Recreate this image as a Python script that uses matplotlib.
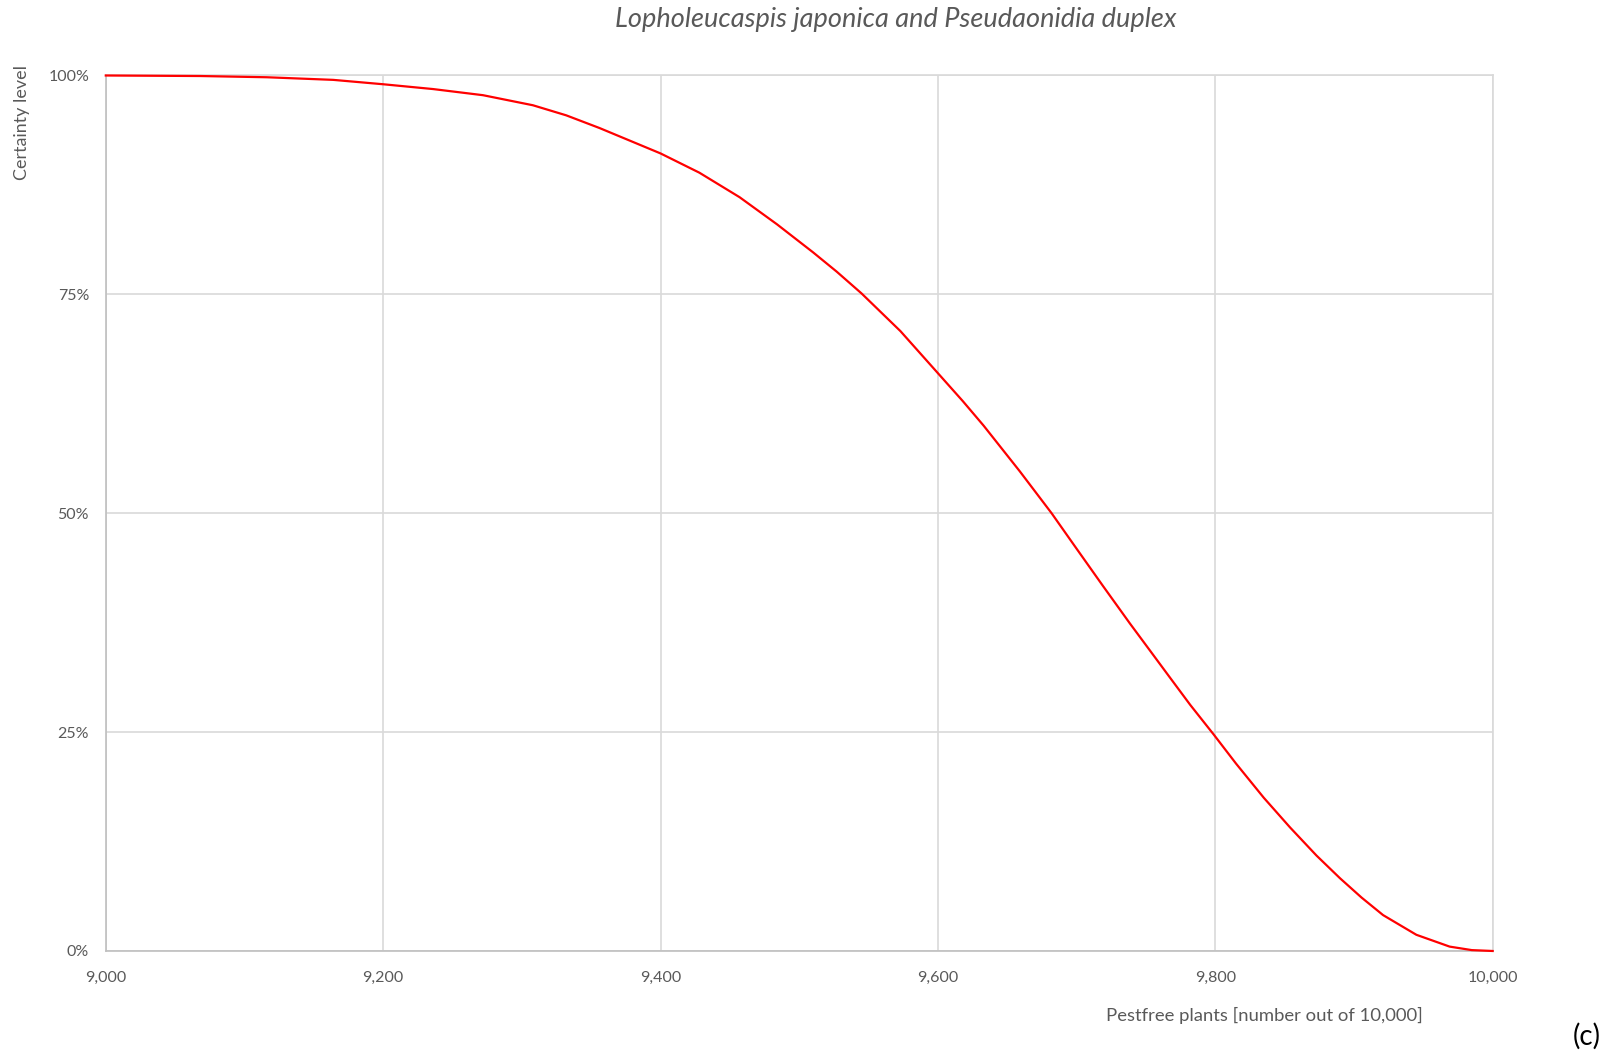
import numpy as np
import matplotlib
matplotlib.use('Agg')
import matplotlib.pyplot as plt
from matplotlib.ticker import FuncFormatter

# values
pestfree_plants = [9000, 9068, 9116, 9164, 9200, 9236, 9272, 9308, 9332, 9356,
                   9400, 9428, 9457, 9484, 9510, 9527, 9545, 9573, 9600, 9618,
                   9633, 9659, 9682, 9698, 9719, 9738.5, 9753, 9767, 9782, 9799,
                   9815, 9835, 9854, 9873, 9890, 9905.5, 9921, 9945, 9969, 9985, 10000]
certainty = [100.0, 99.94, 99.8, 99.5, 99.0, 98.45, 97.75, 96.6, 95.45, 94.0,
             91.1, 88.9, 86.1, 83.0, 79.8, 77.6, 75.1, 70.8, 66.0, 62.8,
             60.0, 54.8, 50.0, 46.4, 41.7, 37.4, 34.3, 31.3, 28.1, 24.7,
             21.4, 17.5, 14.1, 10.9, 8.3, 6.1, 4.1, 1.85, 0.5, 0.1, 0.0]

x_ticks = [9000, 9200, 9400, 9600, 9800, 10000]
y_ticks = [0, 25, 50, 75, 100]

plt.rcParams['font.family'] = ['Lato', 'DejaVu Sans']
txt = '#595959'
grid = '#D9D9D9'

fig = plt.figure(figsize=(16.1, 10.5), dpi=100)
ax = fig.add_axes([0.0657, 0.0943, 0.9271 - 0.0657, 0.9281 - 0.0943])

ax.plot(pestfree_plants, certainty, color='#FF0000', lw=1.6, clip_on=False, zorder=3,
        solid_joinstyle='round')

ax.set_xlim(9000, 10000)
ax.set_ylim(0, 100)
ax.set_xticks(x_ticks)
ax.set_yticks(y_ticks)
ax.xaxis.set_major_formatter(FuncFormatter(lambda v, p: f'{int(v):,}'))
ax.yaxis.set_major_formatter(FuncFormatter(lambda v, p: f'{int(v)}%'))
ax.tick_params(length=0, labelsize=11.5, labelcolor=txt)
ax.tick_params(axis='x', pad=14)
ax.tick_params(axis='y', pad=12)
ax.grid(True, color=grid, lw=1.2)
ax.set_axisbelow(True)
for s in ['top', 'right']:
    ax.spines[s].set_color(grid)
    ax.spines[s].set_linewidth(1.2)
for s in ['left', 'bottom']:
    ax.spines[s].set_color('#BFBFBF')
    ax.spines[s].set_linewidth(1.2)

fig.text(896 / 1610, 1 - 19 / 1050, 'Lopholeucaspis japonica and Pseudaonidia duplex',
         ha='center', va='center', fontsize=19.5, style='italic', color=txt)
fig.text(22 / 1610, 1 - 122 / 1050, 'Certainty level', rotation=90,
         ha='center', va='center', fontsize=12.9, color=txt)
fig.text(1264 / 1610, 1 - 1015 / 1050, 'Pestfree plants [number out of 10,000]',
         ha='center', va='center', fontsize=13.3, color=txt)
fig.text(1587 / 1610, 1 - 1036 / 1050, '(c)', ha='center', va='center', fontsize=20, color='black')

fig.savefig('out.png', dpi=100)
